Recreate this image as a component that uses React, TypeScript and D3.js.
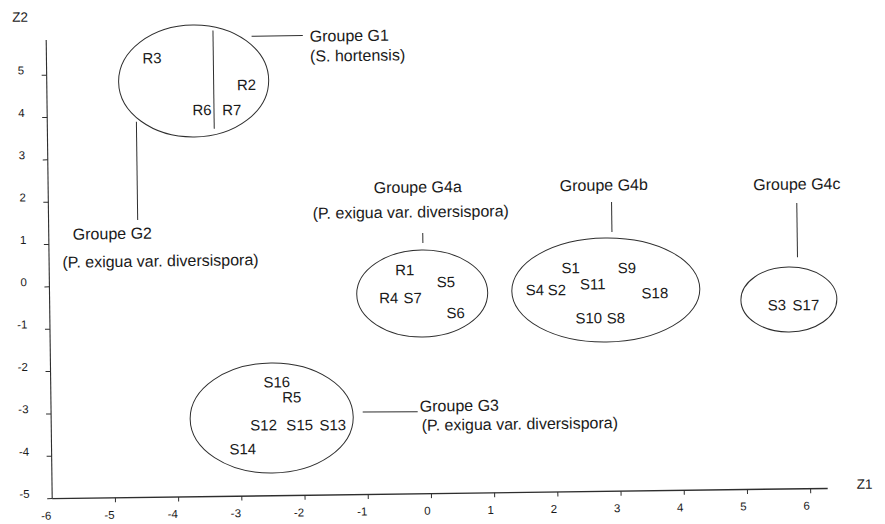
import React from "react";
import * as d3 from "d3";

// ---- data (values in Z1 / Z2 units) ----
const xTicks = [-6, -5, -4, -3, -2, -1, 0, 1, 2, 3, 4, 5, 6];
const yTicks = [-5, -4, -3, -2, -1, 0, 1, 2, 3, 4, 5];

const pointLabels = ["R3", "R2", "R6", "R7", "R1", "S5", "R4", "S7", "S6", "S1", "S9", "S4", "S2", "S11", "S18", "S10", "S8", "S3", "S17", "S16", "R5", "S12", "S15", "S13", "S14"];
const pointZ1 = [-4.33, -2.84, -3.55, -3.08, -0.375, 0.271, -0.634, -0.255, 0.422, 2.25, 3.14, 1.677, 2.025, 2.597, 3.576, 2.525, 2.953, 5.503, 5.962, -2.424, -2.19, -2.64, -2.07, -1.547, -2.976];
const pointZ2 = [5.37, 4.71, 4.13, 4.12, 0.289, -0.008, -0.367, -0.374, -0.743, 0.285, 0.267, -0.223, -0.23, -0.103, -0.332, -0.903, -0.911, -0.654, -0.662, -2.32, -2.68, -3.33, -3.34, -3.35, -3.89];

const ellipseCz1 = [-3.676, -0.104, 2.801, 5.695, -2.511];
const ellipseCz2 = [4.816, -0.272, -0.246, -0.527, -3.165];
const ellipseRz1 = [1.187, 1.036, 1.487, 0.759, 1.29];
const ellipseRz2 = [1.322, 1.027, 1.228, 0.767, 1.3];

const groupNames = ["Groupe G1", "Groupe G2", "Groupe G4a", "Groupe G4b", "Groupe G4c", "Groupe G3"];
const groupTaxa = ["(S. hortensis)", "(P. exigua var. diversispora)", "(P. exigua var. diversispora)", "", "", "(P. exigua var. diversispora)"];
const nameZ1 = [-1.83, -5.62, -0.153, 2.791, 5.845, -0.166];
const nameZ2 = [5.84, 1.24, 2.244, 2.234, 2.197, -2.93];
const taxaZ1 = [-1.83, -5.79, -0.269, 0, 0, -0.139];
const taxaZ2 = [5.37, 0.58, 1.656, 0, 0, -3.38];
const groupAnchor = ["start", "start", "middle", "middle", "middle", "start"];

// leader / divider segments: [z1a, z2a, z1b, z2b]
const leaders = [
  [-3.36, 6.0, -3.36, 3.68],
  [-2.75, 5.855, -1.94, 5.855],
  [-4.59, 3.87, -4.59, 1.55],
  [-0.083, 1.156, -0.083, 0.92],
  [2.91, 1.83, 2.91, 1.12],
  [5.84, 1.75, 5.84, 0.47],
  [-1.07, -3.05, -0.2, -3.06],
];

export default function App() {
  const W = 885;
  const H = 524;
  const x = d3.scaleLinear().domain([-6, 6]).range([49.5, 808]);
  const y = d3.scaleLinear().domain([-5, 5]).range([493.5, 70]);
  const font = "'Liberation Sans', Arial, Helvetica, sans-serif";
  const ink = "#1a1a1a";
  const line = "#2e2e2e";

  return (
    <svg
      width={W}
      height={H}
      viewBox={`0 0 ${W} ${H}`}
      style={{ position: "absolute", left: 0, top: 0, background: "#fff" }}
      fontFamily={font}
    >
      <rect width={W} height={H} fill="#fff" />
      <g transform="rotate(-0.75 440 290)">
        {/* axes */}
        <line x1={x(-6)} y1={y(-5)} x2={x(6.27)} y2={y(-5)} stroke={line} strokeWidth={1.4} />
        <line x1={x(-6)} y1={y(-5)} x2={x(-6)} y2={y(5.83)} stroke={line} strokeWidth={1.1} />
        {xTicks.map((t) => (
          <g key={"xt" + t}>
            {t !== -6 && (
              <line x1={x(t)} y1={y(-5)} x2={x(t)} y2={y(-5) + 4.5} stroke={line} strokeWidth={1} />
            )}
            <text x={x(t) - 1} y={y(-5) + 17} dy="0.35em" textAnchor="end" fontSize={11.5} fill={ink}>
              {t}
            </text>
          </g>
        ))}
        {yTicks.map((t) => (
          <g key={"yt" + t}>
            <line x1={x(-6) - 5} y1={y(t)} x2={x(-6)} y2={y(t)} stroke={line} strokeWidth={1} />
            <text x={27} y={y(t) - 5} dy="0.35em" textAnchor="end" fontSize={11.5} fill={ink}>
              {t}
            </text>
          </g>
        ))}
        <text x={23.6} y={11.5} dy="0.35em" textAnchor="middle" fontSize={13.5} fill={ink}>
          Z2
        </text>
        <text x={x(6.27) + 37} y={y(-5) - 4} dy="0.35em" textAnchor="middle" fontSize={13.5} fill={ink}>
          Z1
        </text>

        {/* ellipses */}
        {ellipseCz1.map((c, i) => (
          <ellipse
            key={"e" + i}
            cx={x(c)}
            cy={y(ellipseCz2[i])}
            rx={x(c + ellipseRz1[i]) - x(c)}
            ry={y(ellipseCz2[i]) - y(ellipseCz2[i] + ellipseRz2[i])}
            fill="none"
            stroke={line}
            strokeWidth={1}
          />
        ))}

        {/* leaders */}
        {leaders.map((s, i) => (
          <line
            key={"l" + i}
            x1={x(s[0])}
            y1={y(s[1])}
            x2={x(s[2])}
            y2={y(s[3])}
            stroke={line}
            strokeWidth={1}
          />
        ))}

        {/* point labels */}
        {pointLabels.map((p, i) => (
          <text
            key={"p" + p}
            x={x(pointZ1[i])}
            y={y(pointZ2[i])}
            dy="0.35em"
            textAnchor="middle"
            fontSize={15}
            fill={ink}
          >
            {p}
          </text>
        ))}

        {/* group labels */}
        {groupNames.map((g, i) => (
          <g key={"g" + g}>
            <text
              x={x(nameZ1[i])}
              y={y(nameZ2[i])}
              dy="0.35em"
              textAnchor={groupAnchor[i]}
              fontSize={16}
              fill={ink}
            >
              {g}
            </text>
            {groupTaxa[i] && (
              <text
                x={x(taxaZ1[i])}
                y={y(taxaZ2[i])}
                dy="0.35em"
                textAnchor={groupAnchor[i]}
                fontSize={16}
                fill={ink}
              >
                {groupTaxa[i]}
              </text>
            )}
          </g>
        ))}
      </g>
    </svg>
  );
}
